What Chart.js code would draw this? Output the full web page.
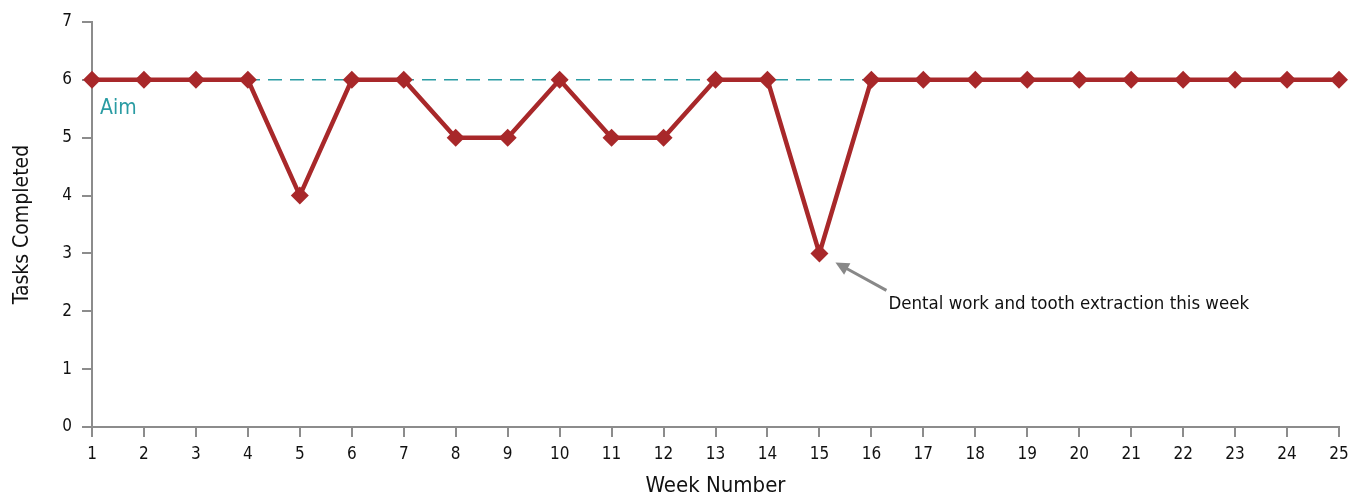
<!DOCTYPE html>
<html lang="en">
<head>
  <meta charset="UTF-8">
  <title>Tasks Completed per Week</title>
  <script src="https://cdn.jsdelivr.net/npm/chart.js"></script>
  <style>
    html, body {
      margin: 0;
      padding: 0;
      background: #fff;
    }
    .chart-box {
      width: 1351px;
      height: 494px;
    }
  </style>
</head>
<body>

<div class="chart-box">
  <canvas id="taskChart"></canvas>
</div>

<script>
  const weeks = [1, 2, 3, 4, 5, 6, 7, 8, 9, 10, 11, 12, 13, 14, 15, 16, 17, 18, 19, 20, 21, 22, 23, 24, 25];
  const tasksDone = [6, 6, 6, 6, 4, 6, 6, 5, 5, 6, 5, 5, 6, 6, 3, 6, 6, 6, 6, 6, 6, 6, 6, 6, 6];
  const aimLevel = [6, 6, 6, 6, 6, 6, 6, 6, 6, 6, 6, 6, 6, 6, 6, 6, null, null, null, null, null, null, null, null, null];
  const yTicks = [0, 1, 2, 3, 4, 5, 6, 7];
  const aimLabel = 'Aim';
  const noteText = 'Dental work and tooth extraction this week';
  const noteWeek = 15;

  const FONT = "'DejaVu Sans Condensed', 'Roboto', sans-serif";
  const RED = '#a8282a';
  const TEAL = '#2a9ca3';
  const AXIS = '#8c8c8c';

  // draws the "Aim" text and the arrow note
  const notesPlugin = {
    id: 'notes',
    afterDatasetsDraw(chart) {
      const ctx = chart.ctx;
      const x = chart.scales.x;
      const y = chart.scales.y;

      ctx.save();
      ctx.fillStyle = TEAL;
      ctx.font = "21px " + FONT;
      ctx.textBaseline = 'alphabetic';
      ctx.fillText(aimLabel, x.getPixelForValue(0) + 8, y.getPixelForValue(aimLevel[0]) + 34);

      // arrow (category scale -> use index)
      const idx = weeks.indexOf(noteWeek);
      const px = x.getPixelForValue(idx);
      const py = y.getPixelForValue(tasksDone[idx]);
      const tipX = px + 16, tipY = py + 9;
      const tailX = px + 67, tailY = py + 37;
      const ang = Math.atan2(tipY - tailY, tipX - tailX);
      ctx.strokeStyle = '#888';
      ctx.fillStyle = '#888';
      ctx.lineWidth = 3;
      ctx.beginPath();
      ctx.moveTo(tailX, tailY);
      ctx.lineTo(tipX - Math.cos(ang) * 8, tipY - Math.sin(ang) * 8);
      ctx.stroke();
      ctx.beginPath();
      ctx.moveTo(tipX, tipY);
      ctx.lineTo(tipX - Math.cos(ang - 0.45) * 15, tipY - Math.sin(ang - 0.45) * 15);
      ctx.lineTo(tipX - Math.cos(ang + 0.45) * 15, tipY - Math.sin(ang + 0.45) * 15);
      ctx.closePath();
      ctx.fill();

      ctx.fillStyle = '#111';
      ctx.font = "18.5px " + FONT;
      ctx.fillText(noteText, px + 69, py + 56);
      ctx.restore();
    }
  };

  new Chart(document.getElementById('taskChart'), {
    type: 'line',
    data: {
      labels: weeks,
      datasets: [
        {
          label: 'Tasks Completed',
          data: tasksDone,
          borderColor: RED,
          backgroundColor: RED,
          borderWidth: 4.5,
          pointStyle: 'rectRot',
          pointRadius: 9,
          pointHoverRadius: 9,
          pointBorderWidth: 0,
          tension: 0,
          order: 1
        },
        {
          label: 'Aim',
          data: aimLevel,
          borderColor: TEAL,
          borderWidth: 1.5,
          borderDash: [14, 8],
          pointRadius: 0,
          spanGaps: false,
          order: 2
        }
      ]
    },
    options: {
      responsive: true,
      maintainAspectRatio: false,
      animation: false,
      layout: { padding: { top: 22, right: 0, left: 0, bottom: 0 } },
      plugins: {
        legend: { display: false },
        tooltip: { enabled: false }
      },
      scales: {
        x: {
          type: 'category',
          offset: false,
          grid: { drawOnChartArea: false, drawTicks: true, tickLength: 10, color: AXIS, lineWidth: 2 },
          border: { display: true, color: AXIS, width: 2 },
          ticks: { color: '#111', font: { family: FONT, size: 17 }, padding: 7, maxRotation: 0, autoSkip: false },
          title: { display: true, text: 'Week Number', color: '#111', font: { family: FONT, size: 22 }, padding: { top: 10, bottom: -5 } },
          afterFit(scale) { scale.height = 67; scale.paddingRight = 12; }
        },
        y: {
          min: 0,
          max: 7,
          afterBuildTicks(scale) { scale.ticks = yTicks.map(v => ({ value: v })); },
          grid: { drawOnChartArea: false, drawTicks: true, tickLength: 10, color: AXIS, lineWidth: 2 },
          border: { display: true, color: AXIS, width: 2 },
          ticks: { color: '#111', font: { family: FONT, size: 17 }, padding: 10 },
          title: { display: true, text: 'Tasks Completed', color: '#111', font: { family: FONT, size: 21 }, padding: { top: 10, bottom: 10 } },
          afterFit(scale) { scale.width = 92; scale.paddingTop = 0; }
        }
      }
    },
    plugins: [notesPlugin]
  });
</script>

</body>
</html>
